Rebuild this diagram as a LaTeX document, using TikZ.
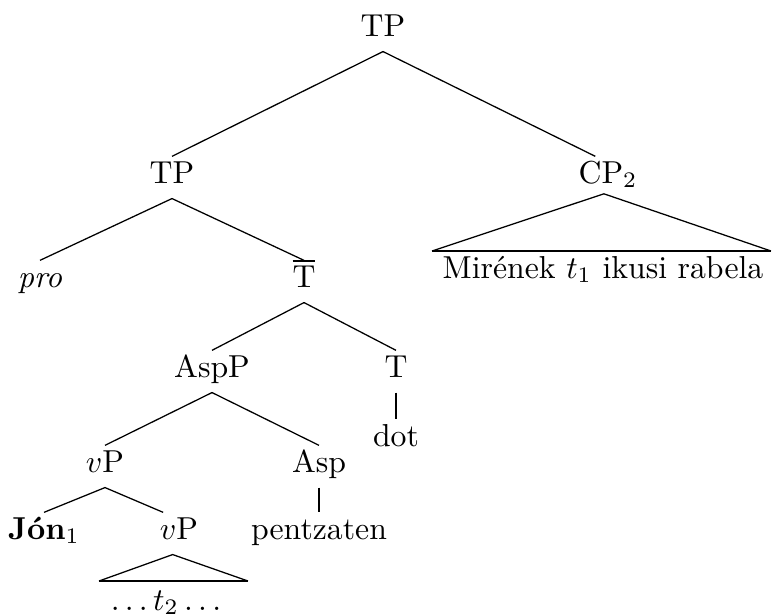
\documentclass[tikz,border=0pt]{standalone}
\usepackage{fontspec}
\tikzset{
  lbl/.style={anchor=base,inner sep=2pt,text height=6.2pt,text depth=2.7pt},
  branch/.style={line width=0.4pt},
  unary/.style={line width=0.8pt},
}
\begin{document}
\begin{tikzpicture}[x=0.315pt,y=-0.315pt]
\useasboundingbox (0,0) rectangle (772,614);
%top
\node[lbl] (tp) at (383,36) {TP};
\node[lbl] (tpl) at (172,183) {TP};
\node[lbl] (cp) at (608,183) {CP$_2$};
\draw[branch] (tp.south) -- (tpl.north);
\draw[branch] (tp.south) -- ([xshift=-4pt]cp.north);
%roof
\node[lbl] (cptxt) at (603,278) {Mir\'enek $t_1$ ikusi rabela};
\coordinate (cpl) at (432,251);
\coordinate (cpr) at (771,251);
\draw[branch] (cpl) -- ([xshift=-1.3pt,yshift=1.5pt]cp.south) -- (cpr);
\draw[unary] (cpl) -- (cpr);
%left TP
\node[lbl] (pro) at (40,287) {\textit{pro}};
\node[lbl] (tbar) at (304,287) {$\overline{\mbox{T}}$};
\draw[branch] (tpl.south) -- (pro.north);
\draw[branch] (tpl.south) -- (tbar.north);
%T bar
\node[lbl] (asp) at (212,377) {AspP};
\node[lbl] (t) at (396,377) {T};
\node[lbl] (dot) at (396,446) {dot};
\draw[branch] (tbar.south) -- (asp.north);
\draw[branch] (tbar.south) -- (t.north);
\draw[unary] (t.south) -- (dot.north);
%AspP
\node[lbl] (vp) at (105,472) {$v$P};
\node[lbl] (a) at (319,472) {Asp};
\node[lbl] (pen) at (319,539) {pentzaten};
\draw[branch] (asp.south) -- (vp.north);
\draw[branch] (asp.south) -- (a.north);
\draw[unary] (a.south) -- (pen.north);
%vP
\node[lbl] (jon) at (44,539) {\textbf{J\'on}$_1$};
\node[lbl] (vpb) at (179,539) {$v$P};
\draw[branch] (vp.south) -- (jon.north);
\draw[branch] (vp.south) -- ([xshift=-5pt]vpb.north);
%roof
\node[lbl] (trace) at (166,610) {$\ldots t_2\ldots$};
\coordinate (vl) at (99,581);
\coordinate (vr) at (248,581);
\draw[branch] (vl) -- ([xshift=-2pt]vpb.south) -- (vr);
\draw[unary] (vl) -- (vr);
\end{tikzpicture}
\end{document}
